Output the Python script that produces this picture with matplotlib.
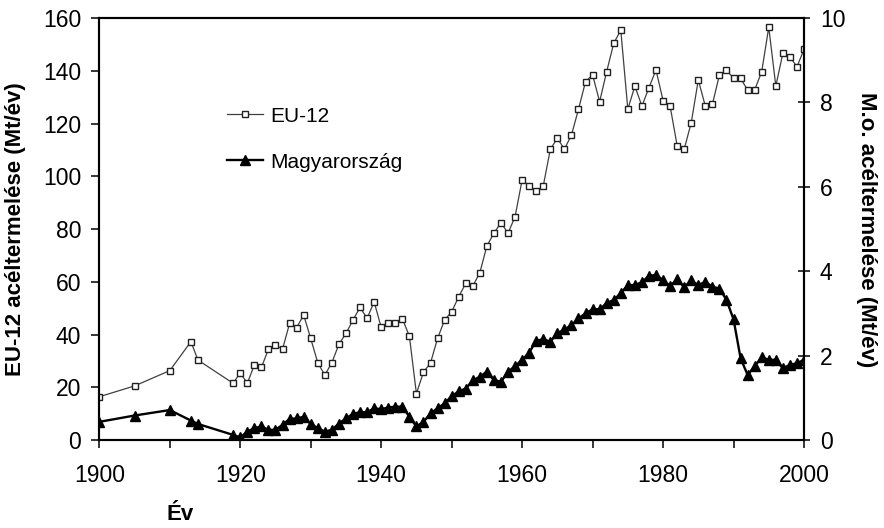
"""
EU-12 es magyar aceltermeles 1900-2000, ket y-tengellyel.
"""

import matplotlib
matplotlib.use("Agg")
import matplotlib.pyplot as plt
from matplotlib import font_manager
from matplotlib.ticker import MultipleLocator

# ---------------------------------------------------------------------------
# Adatok
# ---------------------------------------------------------------------------

years = [1900, 1905, 1910, 1913, 1914] + list(range(1919, 2001))

eu12 = [
    16.4, 20.5, 26.3, 37.3, 30.3,
    21.5, 25.5, 21.5, 28.4, 27.5, 34.4, 36.0, 34.4, 44.2, 42.6, 47.4,
    38.5, 29.3, 24.6, 29.3, 36.3, 40.4, 45.5, 50.3, 46.1, 52.4,
    42.7, 44.5, 44.5, 46.0, 39.4, 17.6, 25.7, 29.2, 38.5, 45.5,
    48.6, 54.3, 59.4, 58.4, 63.4, 73.6, 78.4, 82.4, 78.4, 84.7,
    98.6, 96.3, 94.4, 96.3, 110.2, 114.4, 110.3, 115.6, 125.4, 135.9,
    138.4, 128.3, 139.7, 150.4, 155.4, 125.4, 134.2, 126.6, 133.6, 140.3,
    128.7, 126.6, 111.6, 110.3, 120.3, 136.5, 126.6, 127.3, 138.4, 140.3,
    137.1, 137.1, 132.7, 132.7, 139.7, 156.5, 134.2, 146.6, 145.3, 141.5,
    148.1,
]

hungary = [
    0.43, 0.58, 0.71, 0.46, 0.38,
    0.12, 0.06, 0.20, 0.28, 0.32, 0.24, 0.24, 0.36, 0.50, 0.51, 0.55,
    0.38, 0.28, 0.20, 0.24, 0.39, 0.51, 0.62, 0.66, 0.66, 0.75,
    0.73, 0.77, 0.79, 0.79, 0.55, 0.32, 0.43, 0.63, 0.75,
    0.87, 1.04, 1.15, 1.22, 1.41, 1.50, 1.62, 1.42, 1.38, 1.62, 1.75,
    1.90, 2.07, 2.35, 2.39, 2.33, 2.53, 2.62, 2.72, 2.88, 3.00,
    3.10, 3.10, 3.24, 3.32, 3.48, 3.67, 3.67, 3.74, 3.89, 3.91,
    3.79, 3.65, 3.81, 3.62, 3.78, 3.67, 3.75, 3.63, 3.59, 3.32,
    2.86, 1.94, 1.54, 1.75, 1.96, 1.90, 1.90, 1.70, 1.78, 1.82, 1.90,
]

x_ticks = [1900, 1920, 1940, 1960, 1980, 2000]
left_ticks = [0, 20, 40, 60, 80, 100, 120, 140, 160]
right_ticks = [0, 2, 4, 6, 8, 10]

# ---------------------------------------------------------------------------
# Schrift
# ---------------------------------------------------------------------------

installed = {f.name for f in font_manager.fontManager.ttflist}
base_font = "Liberation Sans" if "Liberation Sans" in installed else "DejaVu Sans"
plt.rcParams["font.family"] = [base_font, "DejaVu Sans"]

# Zahlen im Original schmal und hoch
if "Liberation Sans Narrow" in installed:
    tick_font, tick_size = "Liberation Sans Narrow", 17.5
else:
    tick_font, tick_size = base_font, 16.5

# ---------------------------------------------------------------------------
# Abbildung
# ---------------------------------------------------------------------------

fig = plt.figure(figsize=(8.84, 5.28), dpi=100)
ax = fig.add_axes([99.3 / 884, 1 - 440 / 528, 704.7 / 884, 422 / 528])
ax2 = ax.twinx()

line_eu, = ax.plot(years, eu12, color="#404040", lw=0.9, marker="s",
                   ms=5, mfc="white", mec="#202020", mew=1.0, label="EU-12")
line_hu, = ax2.plot(years, hungary, color="black", lw=1.7, marker="^",
                    ms=7, mfc="black", mec="black", label="Magyarország")

ax.set_xlim(1900, 2000)
ax.set_ylim(0, 160)
ax2.set_ylim(0, 10)
ax.set_xticks(x_ticks)
ax.xaxis.set_minor_locator(MultipleLocator(10))
ax.set_yticks(left_ticks)
ax2.set_yticks(right_ticks)

for a in (ax, ax2):
    for s in a.spines.values():
        s.set_linewidth(1.5)

ax.tick_params(axis="y", which="both", direction="out", length=6, width=1.1,
               pad=7, labelsize=tick_size, labelfontfamily=tick_font)
ax.tick_params(axis="x", which="both", direction="out", length=6, width=1.1,
               pad=11, labelsize=tick_size, labelfontfamily=tick_font)
ax2.tick_params(axis="y", direction="inout", length=9, width=1.1, pad=7,
                labelsize=tick_size, labelfontfamily=tick_font)

fig.text(16 / 884, 1 - 229 / 528, "EU-12 acéltermelése (Mt/év)",
         rotation=90, ha="center", va="center", fontsize=16, fontweight="bold")
fig.text(867 / 884, 1 - 230 / 528, "M.o. acéltermelése (Mt/év)",
         rotation=270, ha="center", va="center", fontsize=16, fontweight="bold")
fig.text(180 / 884, 1 - 514 / 528, "Év", ha="center", va="center",
         fontsize=16, fontweight="bold")

ax2.legend(handles=[line_eu, line_hu], loc="upper left",
           bbox_to_anchor=(0.181, 0.79), frameon=False, fontsize=15,
           handlelength=1.75, handletextpad=0.35, labelspacing=1.3,
           borderpad=0, borderaxespad=0, numpoints=1)

fig.savefig("out.png", dpi=100)
